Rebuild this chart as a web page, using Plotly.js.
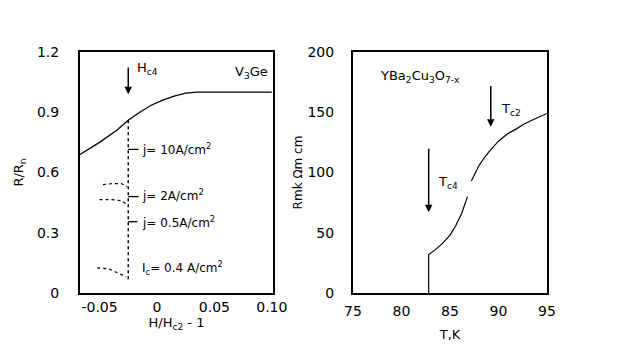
<!DOCTYPE html>
<html>
<head>
<title>Resistive transitions</title>
<script src="https://cdn.plot.ly/plotly-3.0.1.min.js"></script>
<style>
	body {
		margin: 0;
		background-color: white;
	}
</style>
</head>
<body>
<div id="chart" style="width:630px;height:348px;"></div>
<script>
	// V3Ge, R/Rn vs H/Hc2 - 1
	var fieldX = [-0.067, -0.05, -0.035, -0.025, -0.015, -0.005, 0.005, 0.015, 0.025, 0.035, 0.10];
	var fieldR = [0.69, 0.75, 0.81, 0.86, 0.90, 0.935, 0.96, 0.98, 0.995, 1.0, 1.0];

	// dotted drop at Hc4 and the short dotted traces
	var dropX = [-0.025, -0.025];
	var dropR = [0.86, 0.06];
	var traceX = [-0.047, -0.038, -0.031, -0.026, null, -0.050, -0.040, -0.031, -0.026, null, -0.052, -0.042, -0.034, -0.027];
	var traceR = [0.54, 0.545, 0.545, 0.53, null, 0.465, 0.465, 0.46, 0.44, null, 0.125, 0.12, 0.10, 0.08];

	// little dashes pointing at the current labels
	var dashX = [-0.025, -0.016, null, -0.025, -0.016, null, -0.025, -0.017];
	var dashR = [0.715, 0.715, null, 0.48, 0.48, null, 0.355, 0.355];

	var currentLabels = ['j= 10A/cm<sup>2</sup>', 'j= 2A/cm<sup>2</sup>', 'j= 0.5A/cm<sup>2</sup>', 'I<sub>c</sub>= 0.4 A/cm<sup>2</sup>'];
	var currentLabelR = [0.715, 0.49, 0.355, 0.125];

	// YBa2Cu3O7-x, R vs T
	var tempT = [82.8, 82.8, 83.5, 84.2, 85, 85.6, 86.2, 86.8, null, 87.2, 88, 88.6, 89.2, 90, 90.9, 91.8, 92.6, 93.6, 94.7, 95];
	var tempR = [0, 32, 36, 41, 48, 56, 66, 80, null, 93, 106, 113, 119, 126, 132, 136, 140, 144, 148, 149];

	var leftTicks = [0, 0.3, 0.6, 0.9, 1.2];
	var leftTickText = ['0', '0.3', '0.6', '0.9', '1.2'];
	var bottomTicks = [-0.05, 0, 0.05, 0.10];
	var bottomTickText = ['-0.05', '0', '0.05', '0.10'];
	var tempTicks = [75, 80, 85, 90, 95];
	var resTicks = [0, 50, 100, 150, 200];

	var black = 'black';

	var data = [
	  {x: fieldX, y: fieldR, type: 'scatter', mode: 'lines', line: {color: black, width: 1.3}, xaxis: 'x', yaxis: 'y'},
	  {x: dropX, y: dropR, type: 'scatter', mode: 'lines', line: {color: black, width: 1.5, dash: 'dot'}, xaxis: 'x', yaxis: 'y'},
	  {x: traceX, y: traceR, type: 'scatter', mode: 'lines', line: {color: black, width: 1.2, dash: 'dot'}, xaxis: 'x', yaxis: 'y'},
	  {x: dashX, y: dashR, type: 'scatter', mode: 'lines', line: {color: black, width: 1.3}, xaxis: 'x', yaxis: 'y'},
	  {x: tempT, y: tempR, type: 'scatter', mode: 'lines', line: {color: black, width: 1.2}, xaxis: 'x2', yaxis: 'y2'}
	];

	var font = {family: 'DejaVu Sans, sans-serif', size: 13, color: black};
	var ticksFont = {family: 'DejaVu Sans, sans-serif', size: 14, color: black};
	var small = {family: 'DejaVu Sans, sans-serif', size: 12, color: black};

	var annotations = [];
	for (var i = 0; i < currentLabels.length; i++) {
	  annotations.push({x: -0.015, y: currentLabelR[i], xref: 'x', yref: 'y', text: currentLabels[i],
	    showarrow: false, xanchor: 'left', yanchor: 'middle', font: small});
	}
	annotations.push(
	  {x: -0.025, y: 0.99, ax: -0.025, ay: 1.13, xref: 'x', yref: 'y', axref: 'x', ayref: 'y',
	   text: '', showarrow: true, arrowhead: 2, arrowsize: 1, arrowwidth: 1.5, arrowcolor: black},
	  {x: -0.019, y: 1.12, xref: 'x', yref: 'y', text: 'H<sub>c4</sub>', showarrow: false,
	   xanchor: 'left', yanchor: 'middle', font: font},
	  {x: 0.098, y: 1.10, xref: 'x', yref: 'y', text: 'V<sub>3</sub>Ge', showarrow: false,
	   xanchor: 'right', yanchor: 'middle', font: font},
	  {x: 89.2, y: 138, ax: 89.2, ay: 173, xref: 'x2', yref: 'y2', axref: 'x2', ayref: 'y2',
	   text: '', showarrow: true, arrowhead: 2, arrowsize: 1, arrowwidth: 1.5, arrowcolor: black},
	  {x: 82.8, y: 67, ax: 82.8, ay: 121, xref: 'x2', yref: 'y2', axref: 'x2', ayref: 'y2',
	   text: '', showarrow: true, arrowhead: 2, arrowsize: 1, arrowwidth: 1.5, arrowcolor: black},
	  {x: 77.6, y: 180, xref: 'x2', yref: 'y2', text: 'YBa<sub>2</sub>Cu<sub>3</sub>O<sub>7-x</sub>', showarrow: false,
	   xanchor: 'left', yanchor: 'middle', font: font},
	  {x: 90.1, y: 152, xref: 'x2', yref: 'y2', text: 'T<sub>c2</sub>', showarrow: false,
	   xanchor: 'left', yanchor: 'middle', font: font},
	  {x: 83.6, y: 92, xref: 'x2', yref: 'y2', text: 'T<sub>c4</sub>', showarrow: false,
	   xanchor: 'left', yanchor: 'middle', font: font}
	);

	var axisBase = {
	  showgrid: false,
	  zeroline: false,
	  showline: true,
	  mirror: true,
	  linecolor: black,
	  linewidth: 2,
	  ticks: '',
	  tickfont: ticksFont
	};

	var layout = {
	  width: 630,
	  height: 348,
	  margin: {l: 0, r: 0, t: 0, b: 0},
	  showlegend: false,
	  plot_bgcolor: 'white',
	  paper_bgcolor: 'white',
	  font: font,
	  xaxis: Object.assign({}, axisBase, {
	    domain: [0.127, 0.4333], range: [-0.067, 0.101],
	    tickvals: bottomTicks, ticktext: bottomTickText, ticklabelstandoff: 0,
	    title: {text: 'H/H<sub>c2</sub> - 1', font: font, standoff: 2}
	  }),
	  yaxis: Object.assign({}, axisBase, {
	    domain: [0.158, 0.8506], range: [0, 1.2],
	    tickvals: leftTicks, ticktext: leftTickText, ticklabelstandoff: 16,
	    title: {text: 'R/R<sub>n</sub>', font: font, standoff: 10}
	  }),
	  xaxis2: Object.assign({}, axisBase, {
	    domain: [0.5603, 0.8683], range: [75, 95], anchor: 'y2',
	    tickvals: tempTicks, ticklabelstandoff: 4,
	    title: {text: 'T,K', font: font, standoff: 12}
	  }),
	  yaxis2: Object.assign({}, axisBase, {
	    domain: [0.158, 0.8506], range: [0, 200], anchor: 'x2',
	    tickvals: resTicks, ticklabelstandoff: 14,
	    title: {text: 'Rmk Ωm cm', font: small, standoff: 2}
	  }),
	  annotations: annotations
	};

	Plotly.newPlot('chart', data, layout, {displayModeBar: false, staticPlot: true});
</script>
</body>
</html>
